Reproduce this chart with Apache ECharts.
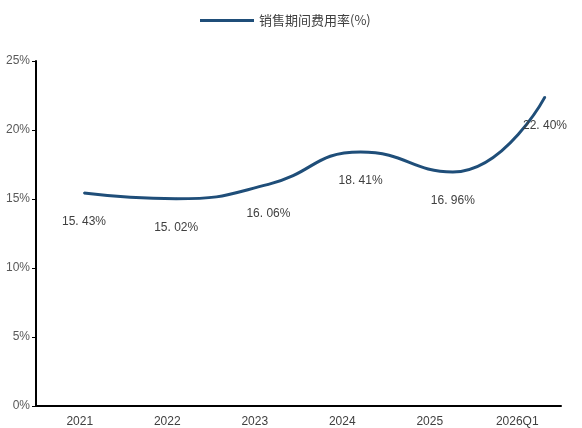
<!DOCTYPE html>
<html>
<head>
<meta charset="utf-8">
<script src="https://cdn.jsdelivr.net/npm/echarts@6/dist/echarts.min.js"></script>
<style>
html,body{margin:0;padding:0;background:#fff;}
#container{width:582px;height:428px;}
</style>
</head>
<body>
<div id="container"></div>
<script>
var categories = ['2021', '2022', '2023', '2024', '2025', '2026Q1'];
var rates = [15.43, 15.02, 16.06, 18.41, 16.96, 22.40];
var yTicks = [0, 5, 10, 15, 20, 25];

var dom = document.getElementById("container");
var myChart = echarts.init(dom);
var option = null;

option = {
    animation: false,
    legend: {
        left: 195,
        top: 9,
        itemWidth: 54,
        itemHeight: 3,
        itemGap: 6,
        itemStyle: { color: '#1f4e79', opacity: 1 },
        textStyle: { fontSize: 13, color: '#404040', fontFamily: 'Noto Sans CJK SC' },
        data: [{ name: '销售期间费用率(%)', icon: 'rect' }]
    },
    grid: [
        { left: 36, right: 21, top: 61, bottom: 22 },
        { left: 84, right: 37, top: 61, bottom: 22 }
    ],
    xAxis: [
        {
            gridIndex: 0,
            type: 'category',
            data: categories,
            axisLine: { lineStyle: { color: '#000', width: 2 } },
            axisTick: { show: false },
            axisLabel: { color: '#404040', fontSize: 12, margin: 10 }
        },
        {
            gridIndex: 1,
            type: 'category',
            data: categories,
            boundaryGap: false,
            show: false
        }
    ],
    yAxis: [
        {
            gridIndex: 0,
            type: 'value',
            min: 0,
            max: 25,
            interval: 5,
            axisLine: { show: true, lineStyle: { color: '#000', width: 2 } },
            axisTick: { show: true, length: 4, lineStyle: { color: '#000' } },
            splitLine: { show: false },
            axisLabel: { color: '#595959', fontSize: 12, margin: 6, formatter: '{value}%' }
        },
        {
            gridIndex: 1,
            type: 'value',
            min: 0,
            max: 25,
            show: false
        }
    ],
    series: [{
        name: '销售期间费用率(%)',
        type: 'line',
        xAxisIndex: 1,
        yAxisIndex: 1,
        data: rates,
        smooth: 0.5,
        symbol: 'circle',
        symbolSize: 2,
        showSymbol: true,
        lineStyle: { color: '#1f4e79', width: 3 },
        itemStyle: { color: '#1f4e79' },
        label: {
            show: true,
            position: 'bottom',
            distance: 22,
            color: '#404040',
            fontSize: 12,
            formatter: function (p) { return Number(p.value).toFixed(2).replace('.', '. ') + '%'; }
        }
    }]
};

if (option && typeof option === "object") {
    myChart.setOption(option, true);
}
</script>
</body>
</html>
